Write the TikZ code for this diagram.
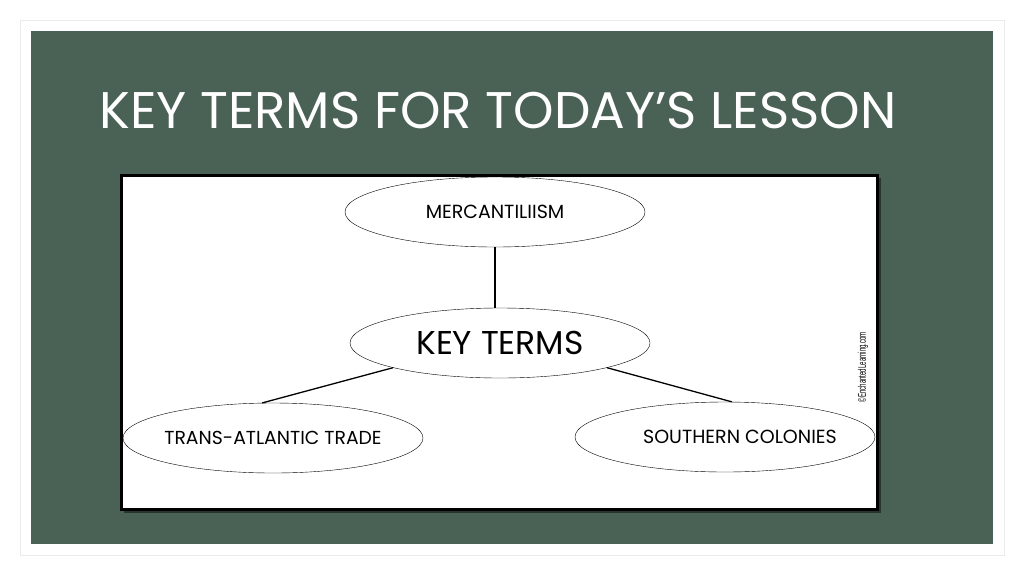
\documentclass[tikz,border=0pt]{standalone}
\usepackage{fontspec}
\setmainfont{Poppins}
\newfontfamily\creditfont[FakeStretch=0.55]{Liberation Sans}
\usetikzlibrary{shapes.geometric}
\definecolor{slidegreen}{RGB}{74,97,85}
\begin{document}
\begin{tikzpicture}[x=1pt,y=-1pt]
  \tikzset{term/.style={draw,ellipse,thin,fill=white,inner xsep=-15pt,inner ysep=0pt,
      minimum width=300pt,minimum height=70pt,font=\fontsize{19}{22}\selectfont},
    link/.style={line width=1.3pt}}
  \useasboundingbox (0,0) rectangle (1024,576);
  \draw[black!8,fill=white] (20,20) rectangle (1004,555);
  \fill[slidegreen] (31,31) rectangle (993,544);
  \node[anchor=base west,text=white,inner sep=0pt,font=\fontsize{51.5}{60}\selectfont]
    (title) at (99,128) {KEY TERMS FOR TODAY’S LESSON};
  % board with shadow
  \fill[black,opacity=.45] (124,178) rectangle (881,513);
  \draw[line width=3pt,fill=white] (121.5,175.5) rectangle (877,509);
  \node[term] (merc) at (495,212) {MERCANTILIISM};
  \node[term,font=\fontsize{33}{38}\selectfont] (key) at (500,343) {KEY TERMS};
  \node[term,font=\fontsize{18.8}{22}\selectfont] (trade) at (273,438) {TRANS-ATLANTIC TRADE};
  \node[term] (south) at (725,437) {\hspace{30pt}SOUTHERN COLONIES};
  \draw[link] (merc.south) -- (merc.south |- key.north);
  \draw[link] (key.193) -- (trade.107);
  \draw[link] (key.-13) -- (south.79);
  \node[rotate=90,inner sep=0pt,font=\creditfont\fontsize{11}{12}\selectfont] (credit) at (863,367) {©EnchantedLearning.com};
\end{tikzpicture}
\end{document}
